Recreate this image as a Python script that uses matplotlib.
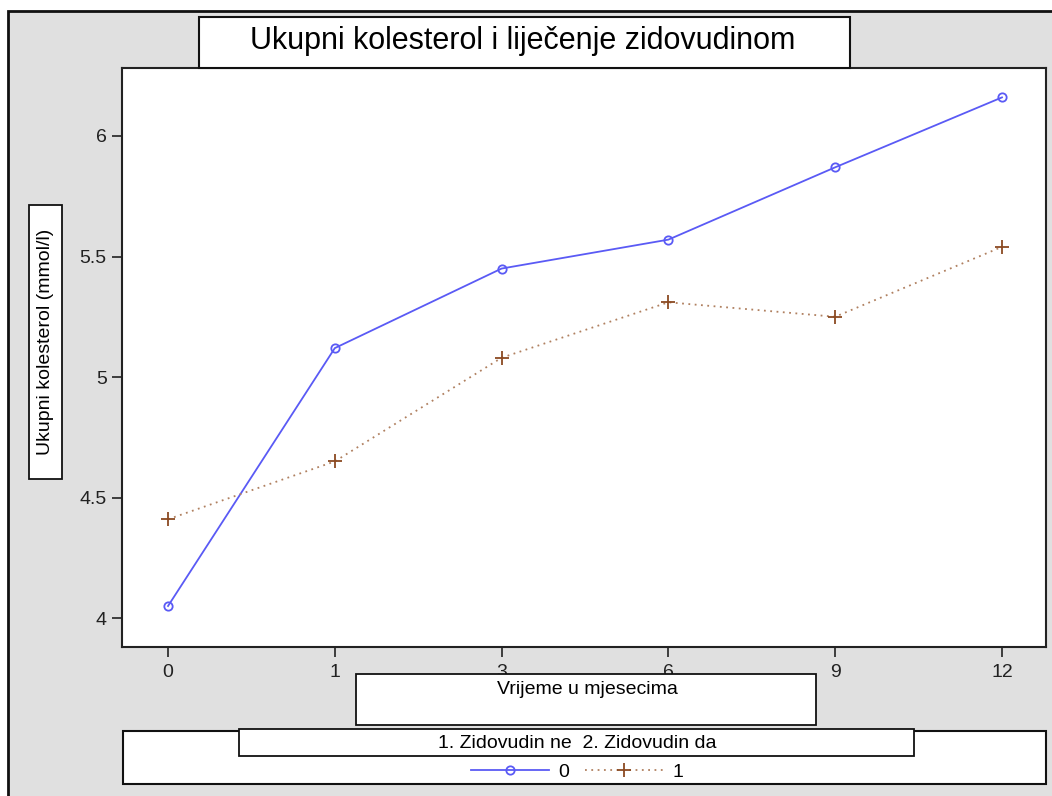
import matplotlib.pyplot as plt
from matplotlib.patches import Rectangle
from matplotlib.lines import Line2D

plt.rcParams['font.family'] = ['Liberation Sans', 'DejaVu Sans']

months = ['0', '1', '3', '6', '9', '12']
kol_ne = [4.05, 5.12, 5.45, 5.57, 5.87, 6.16]
kol_da = [4.41, 4.65, 5.08, 5.31, 5.25, 5.54]
y_ticks = [4, 4.5, 5, 5.5, 6]
y_tick_labels = ['4', '4.5', '5', '5.5', '6']

W, H = 1052, 796
BG = '#e0e0e0'
BLUE = '#5a5af5'
BROWN = '#8b4a22'
DOTS = '#b08060'


def fx(px):
    return px / W


def fy(py):
    return 1 - py / H


def box(x0, y0, x1, y1, lw=1.5, z=1):
    r = Rectangle((fx(x0), fy(y1)), fx(x1) - fx(x0), fy(y0) - fy(y1),
                  transform=fig.transFigure, facecolor='white',
                  edgecolor='#111111', lw=lw, zorder=z)
    fig.add_artist(r)


fig = plt.figure(figsize=(W / 100, H / 100), dpi=100)
fig.patch.set_facecolor('white')

# outer grey frame
frame = Rectangle((fx(8), fy(806)), fx(1070) - fx(8), fy(11) - fy(806),
                  transform=fig.transFigure, facecolor=BG,
                  edgecolor='#111111', lw=2, zorder=0)
fig.add_artist(frame)

ax = fig.add_axes([fx(122), fy(647), fx(1046) - fx(122), fy(68) - fy(647)])
x = list(range(len(months)))
ax.plot(x, kol_ne, color=BLUE, lw=1.3, marker='o', ms=6, mfc='none',
        mec=BLUE, mew=1.3)
ax.plot(x, kol_da, color=DOTS, lw=1.3, ls=(0, (1, 2.5)), marker='+',
        ms=10, mec=BROWN, mew=1.3)

ax.set_xlim(-0.276, 5.264)
ax.set_ylim(3.88, 6.282)
ax.set_xticks(x)
ax.set_xticklabels(months)
ax.set_yticks(y_ticks)
ax.set_yticklabels(y_tick_labels)
ax.tick_params(direction='out', length=7, width=1.2, labelsize=14,
               colors='#222222', pad=4)
ax.tick_params(axis='x', pad=5)
for s in ax.spines.values():
    s.set_linewidth(1.5)
    s.set_color('#222222')

# title box
box(199, 17, 850, 68, z=3)
fig.text(fx(523), fy(41), 'Ukupni kolesterol i liječenje zidovudinom',
         ha='center', va='center', fontsize=22, zorder=4)

# y label box
box(29, 205, 62, 479, lw=1.3)
fig.text(fx(45.5), fy(342), 'Ukupni kolesterol (mmol/l)', rotation=90,
         ha='center', va='center', fontsize=14)

# x label box
box(356, 674, 816, 725, lw=1.3, z=3)
fig.text(fx(587), fy(690), 'Vrijeme u mjesecima', ha='center',
         va='center', fontsize=14, zorder=4)

# legend
box(123, 731, 1046, 784, lw=1.5)
box(239, 729, 914, 756, lw=1.3, z=3)
fig.text(fx(577), fy(743), '1. Zidovudin ne  2. Zidovudin da',
         ha='center', va='center', fontsize=14, zorder=4)
handles = [
    Line2D([], [], color=BLUE, lw=1.3, marker='o', ms=6, mfc='none',
           mec=BLUE, mew=1.3),
    Line2D([], [], color=DOTS, lw=1.3, ls=(0, (1, 2.5)), marker='+',
           ms=10, mec=BROWN, mew=1.3),
]
leg = fig.legend(handles, ['0', '1'], ncol=2, loc='center',
                 bbox_to_anchor=(fx(577), fy(772)), frameon=False,
                 fontsize=14, handlelength=4, columnspacing=0.8,
                 handletextpad=0.5, borderpad=0)
leg.set_zorder(5)

fig.savefig('out.png', dpi=100, facecolor=fig.get_facecolor())
